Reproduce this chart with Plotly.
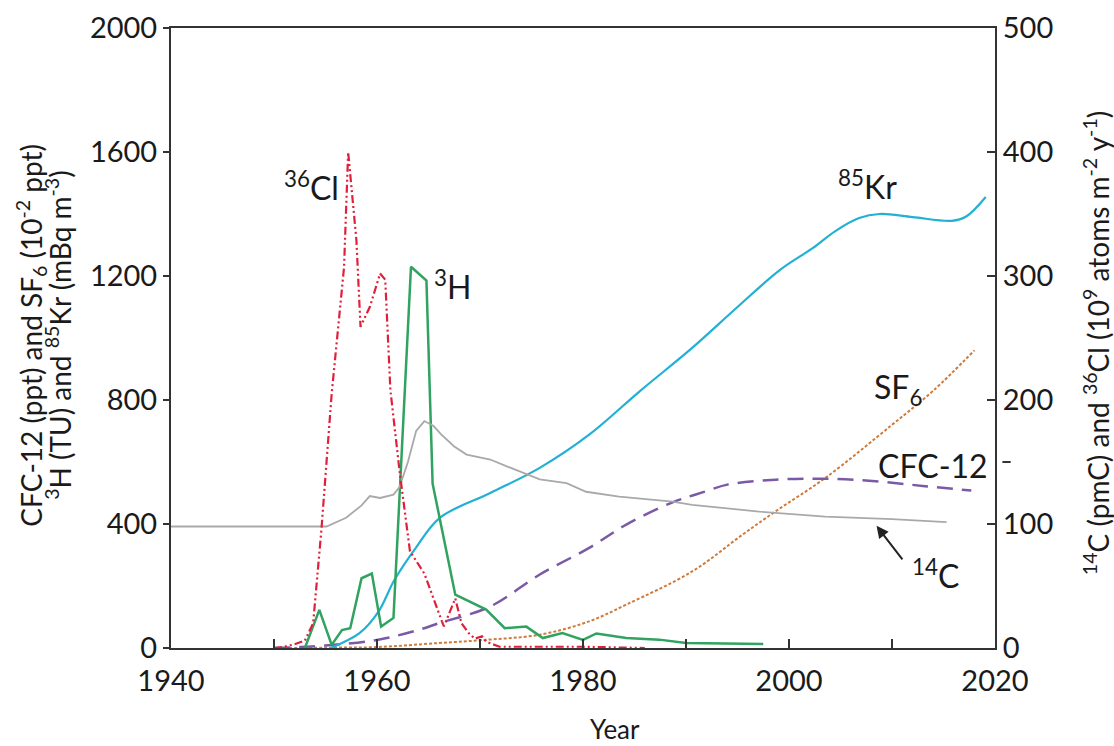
import plotly.graph_objects as go

# ---------------- data ----------------
# 3H (TU) - left axis
h3_year = [1953.0, 1954.4, 1955.6, 1956.6, 1957.4, 1958.5, 1959.5, 1960.4, 1961.6, 1963.3, 1964.8,
           1965.4, 1967.6, 1970.6, 1972.4, 1974.5, 1976.1, 1978.0, 1980.0, 1981.3, 1984.2, 1987.4,
           1990.0, 1997.5]
h3_val = [0, 123, 10, 58, 64, 225, 240, 69, 97, 1230, 1185,
          530, 172, 124, 64, 69, 32, 48, 26, 47, 32, 27,
          16, 13]

# 85Kr (mBq m-3) - left axis
kr_year = [1955.5, 1958.3, 1960.1, 1961.7, 1963.7, 1966.1, 1971.0, 1975.8, 1980.6, 1985.5, 1990.6,
           1995.0, 1999.1, 2002.3, 2004.5, 2006.8, 2008.8, 2012.0, 2015.8, 2017.2, 2019.1]
kr_val = [0, 48, 115, 220, 320, 420, 500, 581, 688, 828, 968,
          1100, 1219, 1290, 1345, 1387, 1400, 1390, 1378, 1392, 1455]

# CFC-12 (ppt) - left axis
cfc_year = [1950, 1955, 1960, 1964, 1966, 1971, 1975.8, 1980.6, 1984.2, 1988.7, 1991.9, 1994,
            1998.7, 2003.5, 2008.4, 2013.2, 2017.7]
cfc_val = [0, 8, 26, 58, 80, 134, 237, 323, 398, 470, 505, 527,
           543, 546, 538, 522, 508]

# SF6 (10^-2 ppt) - left axis
sf6_year = [1950, 1955, 1960, 1966, 1970, 1975.8, 1980.6, 1984.2, 1990.6, 1995.5, 1998.7,
            2003.5, 2010, 2014, 2018]
sf6_val = [0, 1, 3, 16, 25, 43, 86, 140, 247, 366, 441,
           548, 720, 830, 960]

# 14C (pmC) - right axis
c14_year = [1940, 1955.1, 1957, 1958.5, 1959.3, 1960.3, 1961.6, 1962.2, 1963, 1963.8, 1964.6,
            1965.5, 1966.2, 1967.5, 1968.7, 1971, 1972.6, 1975.8, 1978.4, 1980.3, 1983.5,
            1988.7, 1990.6, 1993.5, 1997.1, 2003.5, 2010, 2015.3]
c14_val = [98, 98, 105, 115, 122.5, 121, 123.7, 130, 150, 175, 183,
           179, 172.5, 162.5, 156, 152, 146.5, 136, 133, 126, 122,
           118, 115.5, 113, 110, 106, 104, 101.5]

# 36Cl (10^9 atoms m-2 y-1) - right axis
cl_year = [1950, 1951, 1952, 1953, 1953.8, 1954.6, 1955.6, 1956.2, 1956.8, 1957.2, 1958.0,
           1958.4, 1959.3, 1960.3, 1960.8, 1961.3, 1962.2, 1963.2, 1964.6, 1966.3, 1966.5,
           1967.6, 1968.2, 1968.9, 1969.5, 1970.2, 1970.6, 1971.9, 1980, 1986]
cl_val = [0, 1, 3, 6, 20, 95, 205, 259, 307, 400, 329,
          259, 275, 302, 297, 208, 142, 78, 60, 21.5, 17.5,
          40, 20, 12, 7.5, 9.5, 5, 1, 1, 0]

x_ticks = [1940, 1950, 1960, 1970, 1980, 1990, 2000, 2010, 2020]
x_ticktext = ["1940", "", "1960", "", "1980", "", "2000", "", "2020"]
y_left_ticks = [0, 400, 800, 1200, 1600, 2000]
y_right_ticks = [0, 100, 200, 300, 400, 500]

FONT = "Lato"
TXT = "#1a1a1a"

fig = go.Figure()

fig.add_trace(go.Scatter(x=c14_year, y=c14_val, yaxis="y2", mode="lines",
                         line=dict(color="#a9a9a9", width=1.8), name="14C"))
fig.add_trace(go.Scatter(x=sf6_year, y=sf6_val, mode="lines", line_shape="spline",
                         line=dict(color="#cf7a3a", width=2, dash="3px,2px"), name="SF6"))
fig.add_trace(go.Scatter(x=cfc_year, y=cfc_val, mode="lines", line_shape="spline",
                         line=dict(color="#7a5aa6", width=2.5, dash="16px,9px"), name="CFC-12"))
fig.add_trace(go.Scatter(x=kr_year, y=kr_val, mode="lines", line_shape="spline",
                         line=dict(color="#22b0d4", width=2.2), name="85Kr"))
fig.add_trace(go.Scatter(x=cl_year, y=cl_val, yaxis="y2", mode="lines",
                         line=dict(color="#e0203a", width=2.2, dash="8px,3px,2px,3px,2px,3px"),
                         name="36Cl"))
fig.add_trace(go.Scatter(x=h3_year, y=h3_val, mode="lines",
                         line=dict(color="#2fa35f", width=2.5), name="3H"))

ax_common = dict(showgrid=False, zeroline=False, showline=True, linecolor="#333333",
                 linewidth=2, tickcolor="#333333", tickwidth=2, automargin=False,
                 tickfont=dict(family=FONT, size=29, color=TXT))

fig.update_layout(
    width=1114, height=746,
    margin=dict(l=171, r=119, t=28, b=98, pad=0),
    paper_bgcolor="white", plot_bgcolor="white",
    showlegend=False,
    xaxis=dict(range=[1940, 2020], tickvals=x_ticks, ticktext=x_ticktext,
               ticks="inside", ticklen=9, mirror=True, ticklabelstandoff=6, **ax_common),
    yaxis=dict(range=[0, 2000], tickvals=y_left_ticks, ticks="outside", ticklen=6,
               **ax_common),
    yaxis2=dict(range=[0, 500], tickvals=y_right_ticks, overlaying="y", side="right",
                ticks="inside", ticklen=8, **ax_common),
)

ann_font = dict(family=FONT, size=32, color=TXT)
labels = [
    ("<sup>36</sup>Cl", 1953.6, 1490),
    ("<sup>3</sup>H", 1967.3, 1170),
    ("<sup>85</sup>Kr", 2007.6, 1495),
    ("SF<sub>6</sub>", 2010.6, 835),
    ("CFC-12", 2014.0, 590),
    ("<sup>14</sup>C", 2014.2, 240),
]
for t, xv, yv in labels:
    fig.add_annotation(text=t, x=xv, y=yv, xref="x", yref="y", showarrow=False,
                       xanchor="center", yanchor="middle", font=ann_font)

# arrow pointing at the 14C curve
fig.add_annotation(text="", x=2008.5, y=394, xref="x", yref="y", ax=27, ay=35,
                   showarrow=True, arrowhead=2, arrowsize=1.2, arrowwidth=2,
                   arrowcolor="#222222")

# axis titles
title_font = dict(family=FONT, size=28, color=TXT)
fig.add_annotation(text="CFC-12 (ppt) and SF<sub>6</sub> (10<sup>-2</sup> ppt)",
                   x=-0.169, y=0.505, xref="paper", yref="paper", textangle=-90,
                   xanchor="center", yanchor="middle", showarrow=False, font=title_font)
fig.add_annotation(text="<sup>3</sup>H (TU) and <sup>85</sup>Kr (mBq m<sup>-3</sup>)",
                   x=-0.136, y=0.505, xref="paper", yref="paper", textangle=-90,
                   xanchor="center", yanchor="middle", showarrow=False, font=title_font)
fig.add_annotation(text="<sup>14</sup>C (pmC) and <sup>36</sup>Cl (10<sup>9</sup> atoms m<sup>-2</sup> y<sup>-1</sup>)",
                   x=1.124, y=0.492, xref="paper", yref="paper", textangle=-90,
                   xanchor="center", yanchor="middle", showarrow=False, font=title_font)
fig.add_annotation(text="Year", x=0.539, y=-0.160, xref="paper", yref="paper",
                   xanchor="center", yanchor="bottom", showarrow=False,
                   font=dict(family=FONT, size=26, color=TXT))

# small stray tick right of the right axis (as in the reference)
fig.add_shape(type="line", xref="paper", yref="paper", x0=1.009, x1=1.019, y0=0.30, y1=0.30,
              line=dict(color="#333333", width=2))

# remove the default 8px page margin so the figure fills the window exactly
fig.write_html("out.html", config={"displayModeBar": False},
               post_script="document.body.style.margin='0px';document.body.style.overflow='hidden';")
